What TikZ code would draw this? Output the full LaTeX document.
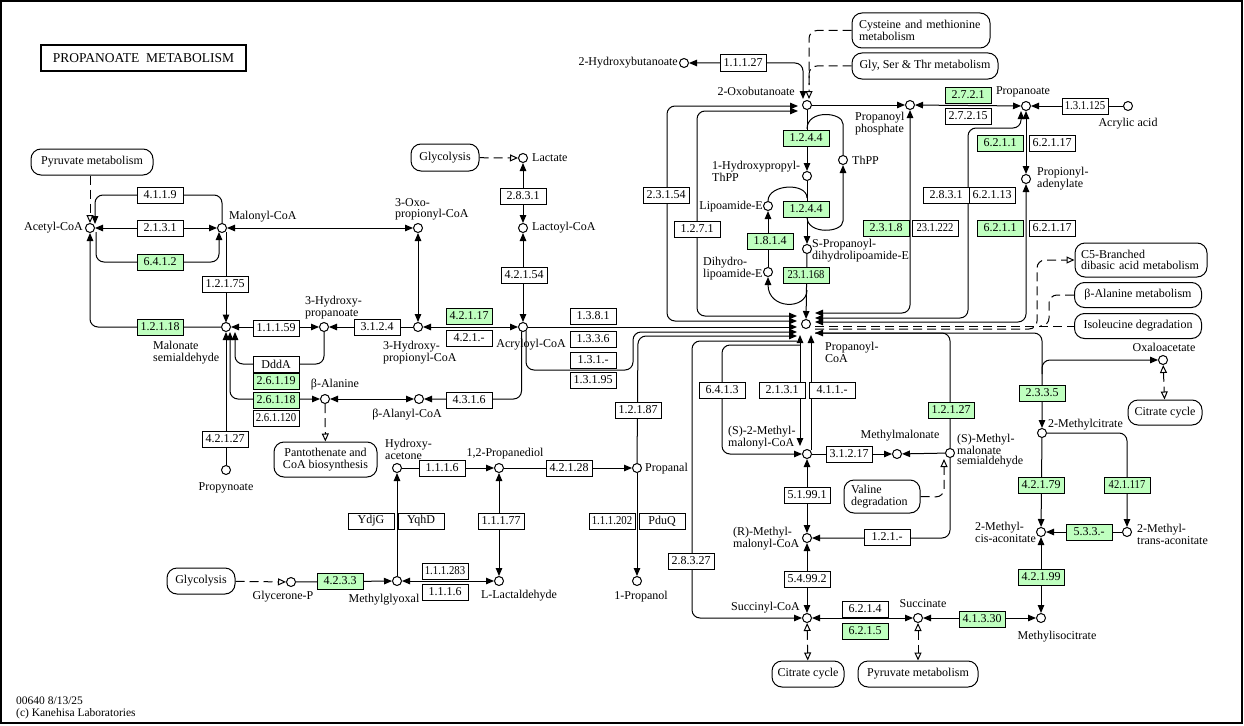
\documentclass[tikz,border=0pt]{standalone}
\usepackage{fontspec}
\usepackage{graphicx}
\setmainfont{Liberation Serif}
\usetikzlibrary{arrows.meta,calc}
\definecolor{kgreen}{HTML}{BFFFBF}
\newcommand\lf{\fontsize{12}{11.5}\selectfont}
\newcommand\ecf{\fontsize{12}{12}\selectfont}
\newcommand\sq[2]{\scalebox{#1}[1]{#2}}
\pgfdeclarelayer{bg}
\pgfsetlayers{bg,main}
\begin{document}
\begin{tikzpicture}[x=1pt,y=-1pt,>={Triangle[length=8pt,width=6.5pt]},
 cpd/.style={circle,draw,fill=white,inner sep=0pt,minimum size=9pt,line width=1pt},
 ec/.style={draw,fill=white,minimum width=46pt,minimum height=16pt,inner sep=0pt,font=\ecf,line width=1pt},
 ecg/.style={ec,fill=kgreen},
 pmap/.style={draw,fill=white,rounded corners=10pt,inner sep=0pt,font=\lf,line width=1pt},
 lb/.style={inner sep=0pt,font=\lf,align=left},
 rx/.style={line width=1pt,rounded corners=8pt},
 dsh/.style={rx,dash pattern=on 9pt off 5pt},
 hol/.style={-{Triangle[open,length=8pt,width=7pt]}},
 holb/.style={{Triangle[open,length=8pt,width=7pt]}-{Triangle[open,length=8pt,width=7pt]}}]
\useasboundingbox (0,0) rectangle (1244,725);
\draw[line width=1.2pt] (1,1) rectangle (1242,723);
\node[draw,line width=1.8pt,minimum width=205pt,minimum height=26pt,inner sep=0pt,font=\fontsize{13.5}{14}\selectfont] (title) at (143.5,58) {PROPANOATE\ \ METABOLISM};
\node[lb,anchor=north west,font=\fontsize{11.5}{12}\selectfont] (foot) at (16,697) {00640 8/13/25\\(c) Kanehisa Laboratories};

% ---------- compounds ----------
\node[cpd] (acoa) at (90,228) {};
\node[cpd] (mcoa) at (222,228) {};
\node[cpd] (msa) at (226,327) {};
\node[cpd] (hp) at (324,327) {};
\node[cpd] (hpcoa) at (418,327) {};
\node[cpd] (opcoa) at (418,228) {};
\node[cpd] (acrcoa) at (523,327) {};
\node[cpd] (lcoa) at (523,228) {};
\node[cpd] (lac) at (523,158) {};
\node[cpd] (bala) at (325,399) {};
\node[cpd] (bacoa) at (419,399) {};
\node[cpd] (propy) at (226,470) {};
\node[cpd] (hbut) at (684,63) {};
\node[cpd] (obut) at (807,105) {};
\node[cpd] (pp) at (910,105) {};
\node[cpd] (prop) at (1026,106) {};
\node[cpd] (acry) at (1128,106) {};
\node[cpd] (thpp) at (843,160) {};
\node[cpd] (hpthpp) at (807,176) {};
\node[cpd] (lipo) at (768,206) {};
\node[cpd] (dhlipo) at (768,272) {};
\node[cpd] (spdl) at (807,249) {};
\node[cpd] (pcoa) at (806,324) {};
\node[cpd] (adenyl) at (1026,179) {};
\node[cpd] (s2mm) at (807,454) {};
\node[cpd] (mma) at (897,454) {};
\node[cpd] (smsa) at (950,453) {};
\node[cpd] (rmm) at (807,538) {};
\node[cpd] (succoa) at (807,618) {};
\node[cpd] (succ) at (918,618) {};
\node[cpd] (micit) at (1041,618) {};
\node[cpd] (mcis) at (1041,532) {};
\node[cpd] (mtrans) at (1127,532) {};
\node[cpd] (mcit) at (1042,433) {};
\node[cpd] (oaa) at (1163,360) {};
\node[cpd] (pdiol) at (499,468) {};
\node[cpd] (hace) at (397,468) {};
\node[cpd] (propanal) at (637,468) {};
\node[cpd] (propanol) at (637,581) {};
\node[cpd] (llact) at (499,581) {};
\node[cpd] (mgly) at (397,581) {};
\node[cpd] (gp) at (291,582) {};
\coordinate (oaab) at (1042,374);

% ---------- maps ----------
\node[pmap,minimum width=122pt,minimum height=26pt] (pyrm1) at (92,162) {Pyruvate metabolism};
\node[pmap,minimum width=68pt,minimum height=27pt] (glyc1) at (445,157.5) {Glycolysis};
\node[pmap,minimum width=103pt,minimum height=35pt,align=center] (pant) at (325.5,459.5) {Pantothenate and\\CoA biosynthesis};
\node[pmap,minimum width=138pt,minimum height=35pt,align=left,text width=124pt] (cys) at (921,30.5) {Cysteine and methionine\\metabolism};
\node[pmap,minimum width=146pt,minimum height=26pt] (gst) at (925,66) {Gly, Ser \& Thr metabolism};
\node[pmap,minimum width=132pt,minimum height=34pt,align=left,text width=120pt] (c5) at (1141,260) {C5-Branched\\dibasic acid metabolism};
\node[pmap,minimum width=127pt,minimum height=25pt] (bam) at (1138,295) {β-Alanine metabolism};
\node[pmap,minimum width=127pt,minimum height=25pt] (ile) at (1138,326) {Isoleucine degradation};
\node[pmap,minimum width=74pt,minimum height=25pt] (citc1) at (1165,412.5) {Citrate cycle};
\node[pmap,minimum width=76pt,minimum height=33pt,align=left,text width=62pt] (val) at (882,496.5) {Valine\\degradation};
\node[pmap,minimum width=72pt,minimum height=26pt] (citc2) at (808,674) {Citrate cycle};
\node[pmap,minimum width=120pt,minimum height=26pt] (pyrm2) at (918,674) {Pyruvate metabolism};
\node[pmap,minimum width=68pt,minimum height=26pt] (glyc2) at (201,581) {Glycolysis};

% ---------- enzymes ----------
\node[ec] (e4119) at (160,195) {4.1.1.9};
\node[ec] (e2131a) at (160,228) {2.1.3.1};
\node[ecg] (e6412) at (160,262) {6.4.1.2};
\node[ec] (e12175) at (225,284) {1.2.1.75};
\node[ecg] (e12118) at (160,327) {1.2.1.18};
\node[ec] (e11159) at (276,328) {1.1.1.59};
\node[ec] (edddA) at (276,364) {DddA};
\node[ecg] (e26119) at (276,381) {2.6.1.19};
\node[ecg] (e26118) at (276,400) {2.6.1.18};
\node[ec] (e261120) at (276,418) {\sq{0.9}{2.6.1.120}};
\node[ec] (e42127) at (225,439) {4.2.1.27};
\node[ec] (e3124) at (377,327) {3.1.2.4};
\node[ecg] (e42117) at (469,316) {4.2.1.17};
\node[ec] (e421x) at (469,338) {4.2.1.-};
\node[ec] (e42154) at (524,275) {4.2.1.54};
\node[ec] (e2831a) at (523,196) {2.8.3.1};
\node[ec] (e4316) at (469,400) {4.3.1.6};
\node[ec] (e1381) at (593,316) {1.3.8.1};
\node[ec] (e1336) at (593,339) {1.3.3.6};
\node[ec] (e131x) at (593,360) {1.3.1.-};
\node[ec] (e13195) at (593,380) {1.3.1.95};
\node[ec] (e12187) at (638,410) {1.2.1.87};
\node[ec] (e11127) at (743,63) {1.1.1.27};
\node[ecg] (e1244a) at (806,138) {1.2.4.4};
\node[ecg] (e1244b) at (806,209) {1.2.4.4};
\node[ecg] (e1814) at (770,241) {1.8.1.4};
\node[ecg] (e231168) at (806,275) {\sq{0.88}{23.1.168}};
\node[ec] (e23154) at (666,195) {2.3.1.54};
\node[ec] (e1271) at (697,229) {1.2.7.1};
\node[ecg] (e2721) at (968,95) {2.7.2.1};
\node[ec] (e27215) at (968,116) {2.7.2.15};
\node[ec] (e131125) at (1085,106) {\sq{0.9}{1.3.1.125}};
\node[ecg] (e6211a) at (1000,143) {6.2.1.1};
\node[ec] (e62117a) at (1052,143) {6.2.1.17};
\node[ec] (e2831b) at (946,195) {2.8.3.1};
\node[ec] (e62113) at (992,195) {6.2.1.13};
\node[ecg] (e2318) at (886,228) {2.3.1.8};
\node[ec] (e231222) at (935,228) {\sq{0.88}{23.1.222}};
\node[ecg] (e6211b) at (1000,228) {6.2.1.1};
\node[ec] (e62117b) at (1052,228) {6.2.1.17};
\node[ec] (e6413) at (722,390) {6.4.1.3};
\node[ec] (e2131b) at (782,390) {2.1.3.1};
\node[ec] (e411x) at (832,390) {4.1.1.-};
\node[ec] (e31217) at (849,454) {3.1.2.17};
\node[ecg] (e12127) at (951,410) {1.2.1.27};
\node[ec] (e51991) at (807,495) {5.1.99.1};
\node[ec] (e121x) at (887,537) {1.2.1.-};
\node[ec] (e54992) at (807,579) {5.4.99.2};
\node[ec] (e6214) at (865,609) {6.2.1.4};
\node[ecg] (e6215) at (865,631) {6.2.1.5};
\node[ecg] (e41330) at (982,619) {4.1.3.30};
\node[ecg] (e2335) at (1042,393) {2.3.3.5};
\node[ecg] (e42179) at (1041,485) {4.2.1.79};
\node[ecg] (e421117) at (1127,485) {\sq{0.88}{42.1.117}};
\node[ecg] (e533x) at (1089,532) {5.3.3.-};
\node[ecg] (e42199) at (1041,577) {4.2.1.99};
\node[ec] (e28327) at (691,561) {2.8.3.27};
\node[ec] (e1116a) at (442,468) {1.1.1.6};
\node[ec] (e42128) at (569,468) {4.2.1.28};
\node[ec] (e111202) at (612,521) {\sq{0.9}{1.1.1.202}};
\node[ec] (epduq) at (662,521) {PduQ};
\node[ec] (eydjg) at (371,521) {YdjG};
\node[ec] (eyqhd) at (421,521) {YqhD};
\node[ec] (e11177) at (501,521) {1.1.1.77};
\node[ec] (e111283) at (445,571) {\sq{0.9}{1.1.1.283}};
\node[ec] (e1116b) at (445,592) {1.1.1.6};
\node[ecg] (e4233) at (340,581) {4.2.3.3};

% ---------- labels ----------
\node[lb,anchor=east] (tacoa) at (83,228) {Acetyl-CoA};
\node[lb,anchor=west] (tmcoa) at (229,217) {Malonyl-CoA};
\node[lb,anchor=north west] (tmsa) at (153,341) {Malonate\\semialdehyde};
\node[lb,anchor=north west] (thp) at (305,296) {3-Hydroxy-\\propanoate};
\node[lb,anchor=north west] (thpcoa) at (383,341) {3-Hydroxy-\\propionyl-CoA};
\node[lb,anchor=north west] (topcoa) at (395,198) {3-Oxo-\\propionyl-CoA};
\node[lb,anchor=west] (tlcoa) at (532,228) {Lactoyl-CoA};
\node[lb,anchor=west] (tlac) at (532,158) {Lactate};
\node[lb] (tacr) at (531,345) {Acryloyl-CoA};
\node[lb] (tbala) at (335,385) {β-Alanine};
\node[lb] (tbacoa) at (407,415) {β-Alanyl-CoA};
\node[lb] (tpropy) at (226,488) {Propynoate};
\node[lb,anchor=east] (thbut) at (678,63) {2-Hydroxybutanoate};
\node[lb,anchor=east] (tobut) at (795,91) {2-Oxobutanoate};
\node[lb,anchor=north west] (tpp) at (855,112) {Propanoyl\\phosphate};
\node[lb,anchor=west] (tthpp) at (852,160) {ThPP};
\node[lb,anchor=north west] (thpthpp) at (712,161) {1-Hydroxypropyl-\\ThPP};
\node[lb,anchor=east] (tlipo) at (763,207) {Lipoamide-E};
\node[lb,anchor=north west] (tdhlipo) at (703,257) {Dihydro-\\lipoamide-E};
\node[lb,anchor=north west] (tspdl) at (812,239) {S-Propanoyl-\\dihydrolipoamide-E};
\node[lb,anchor=north west] (tpcoa) at (825,342) {Propanoyl-\\CoA};
\node[lb] (tprop) at (1023,92) {Propanoate};
\node[lb] (tacry) at (1128,124) {Acrylic acid};
\node[lb,anchor=north west] (tadenyl) at (1037,167) {Propionyl-\\adenylate};
\node[lb,anchor=north west] (ts2mm) at (728,426) {(S)-2-Methyl-\\malonyl-CoA};
\node[lb] (tmma) at (900,436) {Methylmalonate};
\node[lb,anchor=north west,font=\fontsize{12}{10.5}\selectfont] (tsmsa) at (957,434) {(S)-Methyl-\\malonate\\semialdehyde};
\node[lb,anchor=north west] (trmm) at (733,527) {(R)-Methyl-\\malonyl-CoA};
\node[lb,anchor=east] (tsuccoa) at (800,608) {Succinyl-CoA};
\node[lb] (tsucc) at (923,604) {Succinate};
\node[lb] (tmicit) at (1057,637) {Methylisocitrate};
\node[lb,anchor=north west] (tmcis) at (975,522) {2-Methyl-\\cis-aconitate};
\node[lb,anchor=north west] (tmtrans) at (1137,524) {2-Methyl-\\trans-aconitate};
\node[lb,anchor=west] (tmcit) at (1048,425) {2-Methylcitrate};
\node[lb] (toaa) at (1164,347) {Oxaloacetate};
\node[lb] (tpdiol) at (505,454) {1,2-Propanediol};
\node[lb,anchor=north west] (thace) at (385,439) {Hydroxy-\\acetone};
\node[lb,anchor=west] (tpropanal) at (645,469) {Propanal};
\node[lb] (tpropanol) at (641,597) {1-Propanol};
\node[lb] (tllact) at (519,596) {L-Lactaldehyde};
\node[lb] (tmgly) at (384,600) {Methylglyoxal};
\node[lb] (tgp) at (283,597) {Glycerone-P};

% ---------- connectors ----------
\begin{pgfonlayer}{bg}
\draw[rx,<->] (acoa) -- (mcoa);
\draw[rx,->] ($(mcoa)+(0,-4.5)$) -- (222,195) -- (95,195) -- ($(acoa)+(5,-4)$);
\draw[rx,->] ($(acoa)+(6,4)$) -- (96,262) -- (219,262) -- ($(mcoa)+(-3,4)$);
\draw[rx,->] ($(mcoa)+(4,4)$) -- ($(msa)+(0,-4.5)$);
\draw[rx,->] (msa) -- (90,327) -- (acoa);
\draw[rx,<->] (msa) -- (hp);
\draw[rx,->] (hp) -- (324,364) -- (235,364) -- ($(msa)+(9,5)$);
\draw[rx,<->] ($(msa)+(4,5)$) -- (230,399) -- (bala);
\draw[rx,->] (propy) -- (msa);
\draw[rx,->] (hpcoa) -- (hp);
\draw[rx,<->] (mcoa) -- (opcoa);
\draw[rx,<->] (opcoa) -- (hpcoa);
\draw[rx,<->] (hpcoa) -- (acrcoa);
\draw[rx,<->] (acrcoa) -- (lcoa);
\draw[rx,<->] (lcoa) -- (lac);
\draw[dsh,hol] (glyc1) -- (lac);
\draw[rx,->] ($(acrcoa)+(-1.5,4.3)$) -- (521.5,399) -- (bacoa);
\draw[rx,<->] (bala) -- (bacoa);
\draw[dsh,hol] (bala) -- (pant);
\draw[dsh,hol] (pyrm1.south -| acoa) -- (acoa);
% into propanoyl-CoA from the left
\draw[rx,->] (acrcoa) -- ($(pcoa)+(-9,3)$);
\draw[rx,->] ($(acrcoa)+(3,4)$) -- (526,370) -- (633,370) -- (633,332) -- ($(pcoa)+(-9,8)$);
\draw[rx,->] (propanal) -- (638,336) -- ($(pcoa)+(-9,12)$);
\draw[rx,->] ($(pcoa)+(-9,17)$) -- (692,341) -- (692,618) -- (succoa);
\draw[rx,<->] ($(obut)+(-9,1)$) -- (667,106) -- (667,321) -- ($(pcoa)+(-9,-3)$);
\draw[rx,<->] ($(obut)+(-9,6)$) -- (697,111) -- (697,316) -- ($(pcoa)+(-9,-8)$);
% top
\draw[rx,<->] (hbut) -- (803,63) -- ($(obut)+(-4,-6)$);
\draw[dsh,hol] (cys.west) -- (809,30.5) -- ($(obut)+(2,-6)$);
\draw[dsh] (gst.west) -- (809,66) -- (809,85);
\draw[rx,->] (obut) -- (pp);
\draw[rx,<->] (pp) -- (prop);
\draw[rx,->] (acry) -- (prop);
\draw[rx,->] (obut) -- (hpthpp);
\draw[rx] ($(obut)+(0,24)$) .. controls +(0,-20) and +(0,-20) .. (843,132) -- (thpp);
\draw[rx,->] ($(obut)+(0,112)$) .. controls +(0,18) and +(0,20) .. (843,213) -- (thpp);
\draw[rx] (lipo) .. controls (768,184) and (807,182) .. (807,198);
\draw[rx,->] (dhlipo) -- (lipo);
\draw[rx,->] (hpthpp) -- (spdl);
\draw[rx,->] (spdl) -- (pcoa);
\draw[rx,->] ($(spdl)+(0,41)$) .. controls +(0,20) and (768,310) .. (dhlipo);
% right of propanoyl-CoA
\draw[rx,<->] ($(pcoa)+(9,-11)$) -- (910,313) -- (pp);
\draw[rx,<->] ($(pcoa)+(9,-6)$) -- (968,318) -- (968,128) -- (1021,128) -- ($(prop)+(-5,5)$);
\draw[rx,<->] (prop) -- (adenyl);
\draw[rx,<->] ($(pcoa)+(9,-2)$) -- (1026,322) -- (adenyl);
\draw[dsh] ($(pcoa)+(9,2)$) -- (ile);
\draw[dsh,hol] ($(pcoa)+(9,5)$) -- (1037,329) -- (1037,260) -- (c5);
\draw[dsh] (bam) -- (1049,295) -- (1049,326) -- (1040,326);
\draw[rx,->] (smsa) -- (950,333) -- ($(pcoa)+(9,9)$);
\draw[rx,->] ($(pcoa)+(9,9)$) -- (1042,333) -- (mcit);
\draw[rx,->] (oaab) -- (1042,360) -- (oaa);
\draw[dsh,holb] (oaa) -- (citc1);
\draw[rx,->] (mcit) -- (mcis);
\draw[rx,->] (mcit) -- (1127,433) -- (mtrans);
\draw[rx,->] (mtrans) -- (mcis);
\draw[rx,<->] (mcis) -- (micit);
\draw[rx,<->] (succ) -- (micit);
\draw[rx,<->] (succoa) -- (succ);
\draw[dsh,holb] (succoa) -- (citc2);
\draw[dsh,holb] (succ) -- (pyrm2);
\draw[rx,<->] (rmm) -- (succoa);
\draw[rx,<->] (s2mm) -- (rmm);
\draw[rx,->] (smsa) -- (950,538) -- (rmm);
\draw[dsh,hol] (val.east) -- (944,497) -- ($(smsa)+(-6,6)$);
\draw[rx,->] (smsa) -- (mma);
\draw[rx,->] (s2mm) -- (mma);
\draw[rx,<->] ($(pcoa)+(-6,11)$) -- ($(s2mm)+(-7,-8)$);
\draw[rx,->] ($(s2mm)+(4,-4)$) -- ($(pcoa)+(5,11)$);
\draw[rx,->] ($(pcoa)+(-6,21)$) -- (722,345) -- (722,454) -- (s2mm);
% bottom left
\draw[rx,->] (hace) -- (pdiol);
\draw[rx,->] (pdiol) -- (propanal);
\draw[rx,->] (propanal) -- (propanol);
\draw[rx,->] (mgly) -- (hace);
\draw[rx,<->] (llact) -- (pdiol);
\draw[rx,<->] (mgly) -- (llact);
\draw[rx,->] (gp) -- (mgly);
\draw[dsh,hol] (glyc2) -- (gp);
\end{pgfonlayer}
\end{tikzpicture}
\end{document}
